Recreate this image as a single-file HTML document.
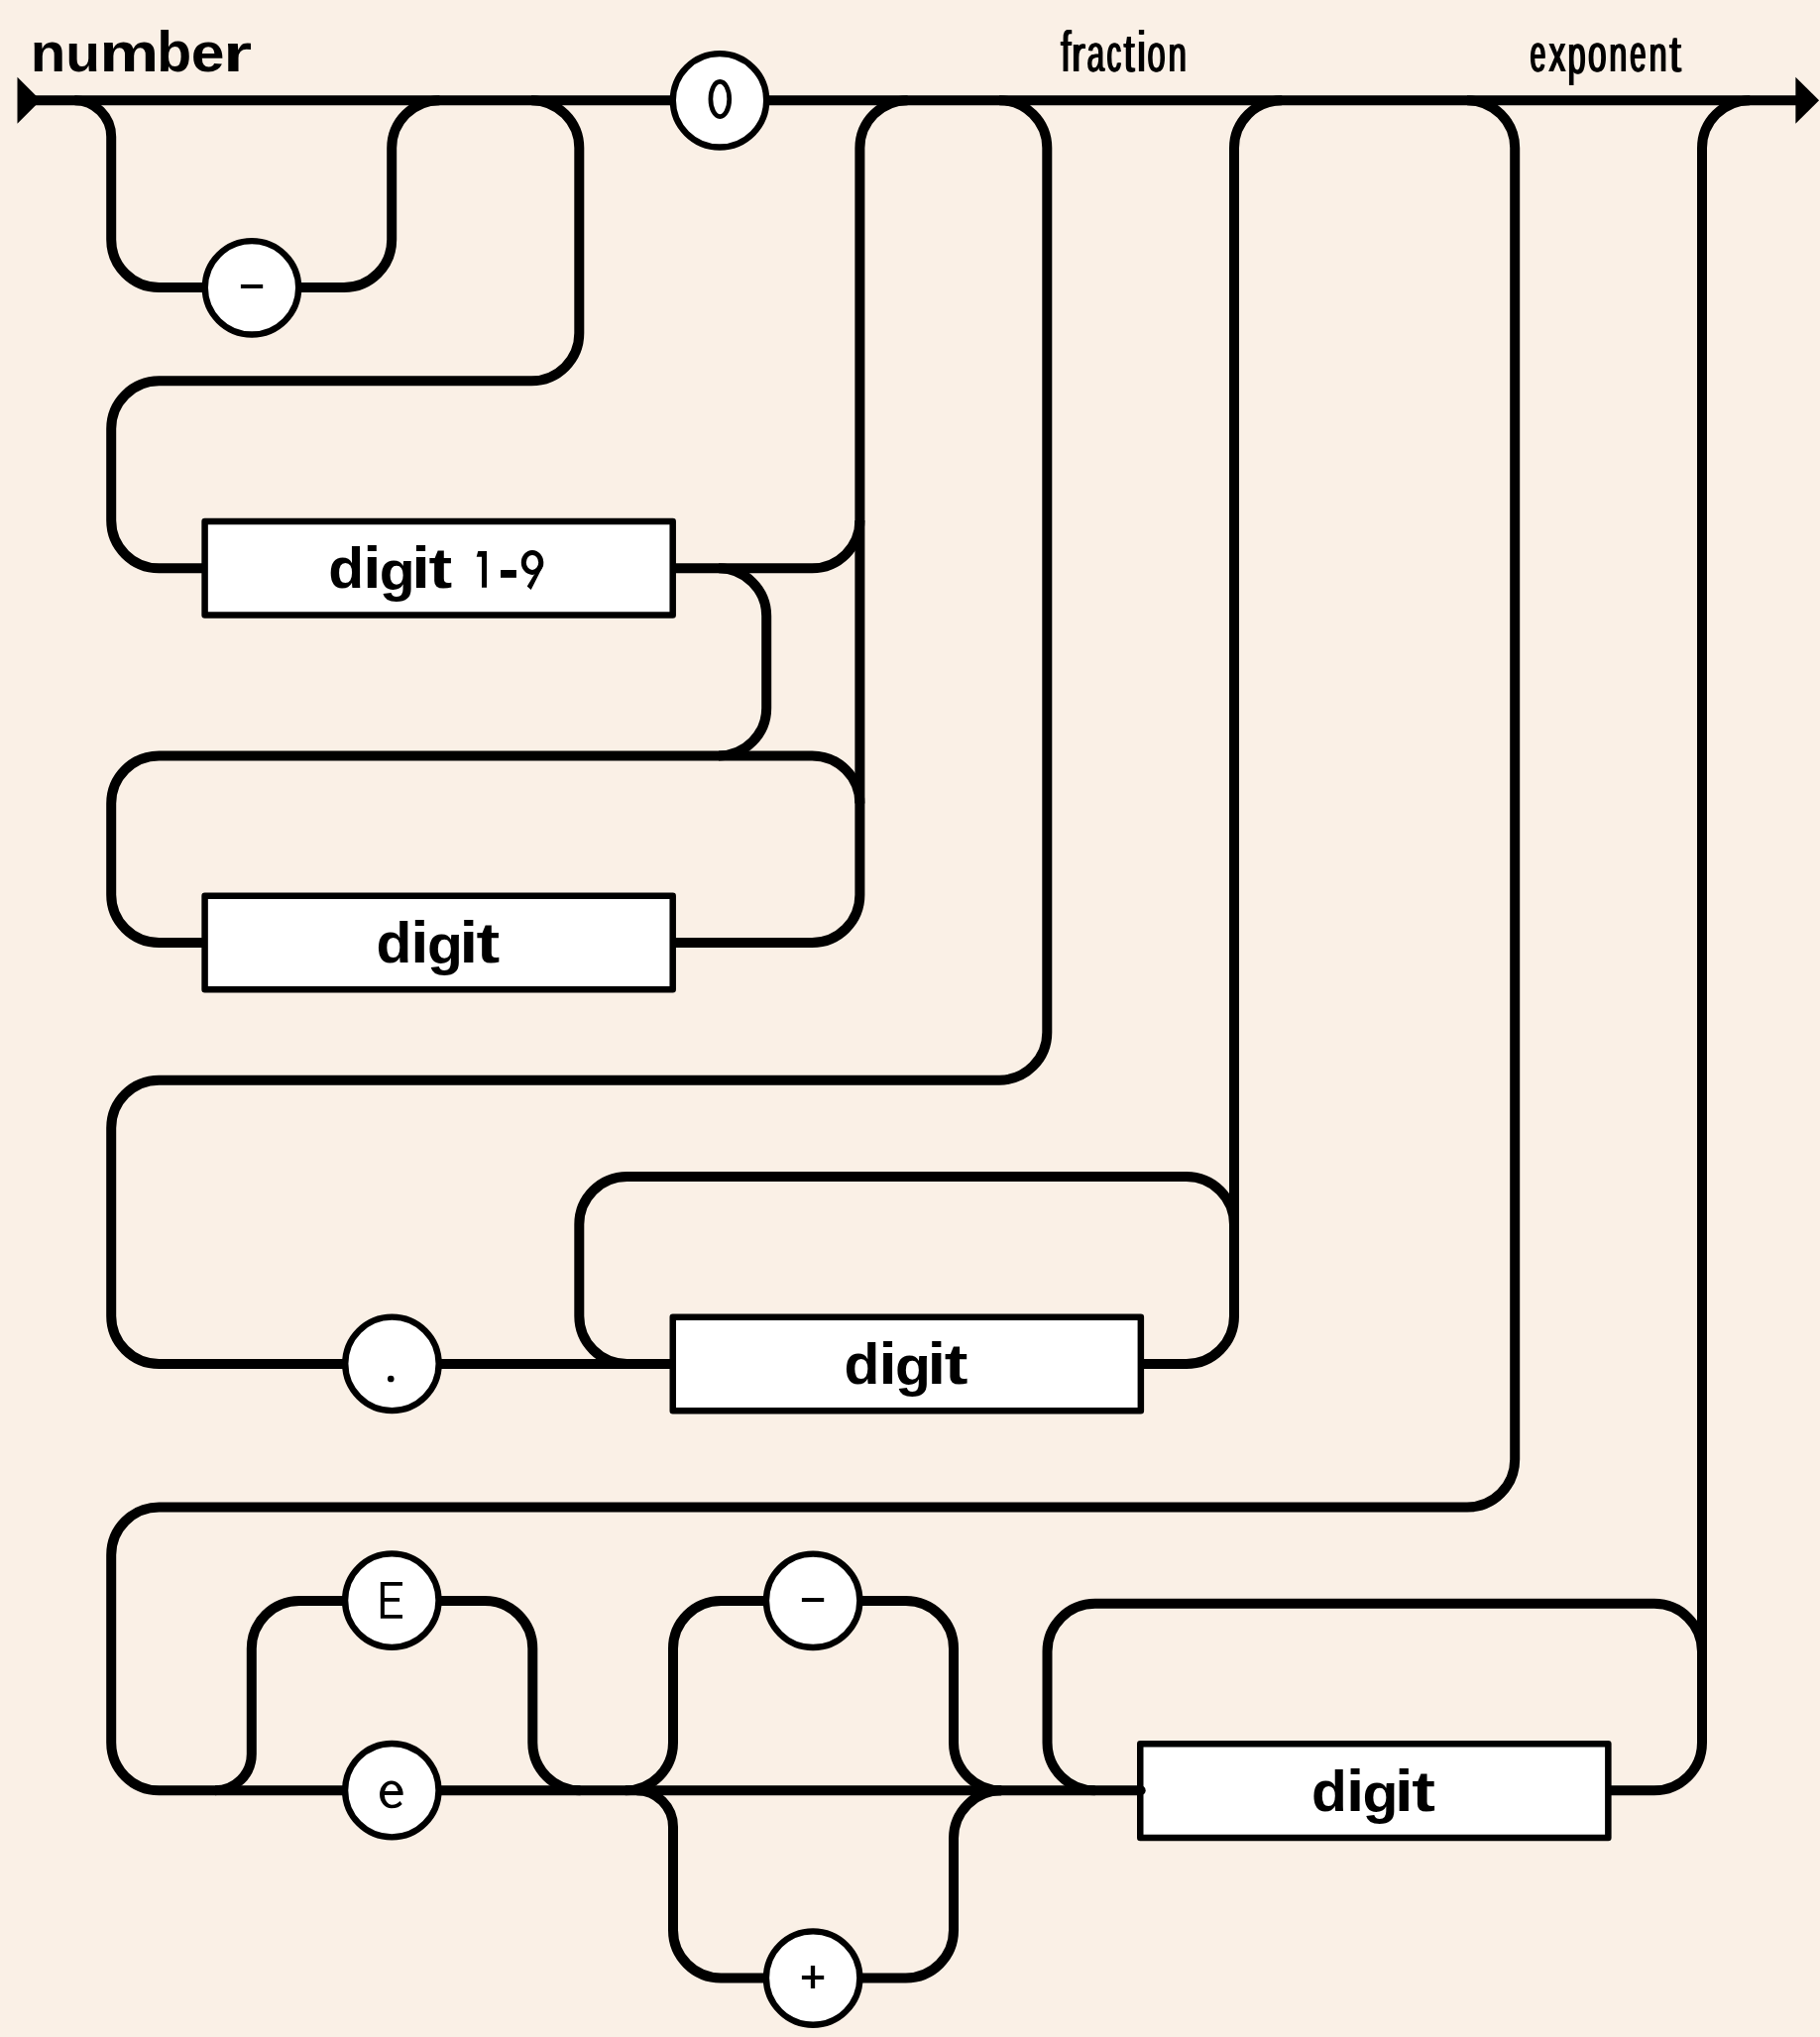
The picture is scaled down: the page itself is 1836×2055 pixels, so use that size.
<!DOCTYPE html>
<html><head><meta charset="utf-8"><title>number</title>
<style>
html,body{margin:0;padding:0;background:#FAF0E6;}
body{width:1836px;height:2055px;overflow:hidden;}
svg{display:block;will-change:transform;}
text{font-family:"Liberation Sans",sans-serif;fill:#000;}
.B{font-weight:bold;}
</style></head><body>
<svg width="1836" height="2055" viewBox="0 0 1836 2055">
<rect width="1836" height="2055" fill="#FAF0E6"/>
<g fill="none" stroke="#000" stroke-width="10" stroke-linecap="butt" stroke-linejoin="round">
<path d="M30 101.15 H1815"/>
<path d="M75.4 101.15 A36.8 36.8 0 0 1 112.2 137.95 V241.8 A48.2 48.2 0 0 0 160.4 290 H347 A48.2 48.2 0 0 0 395.2 241.8 V149.35 A48.2 48.2 0 0 1 443.4 101.15"/>
<path d="M536.1 101.15 A48.2 48.2 0 0 1 584.3 149.35 V336.1 A48.2 48.2 0 0 1 536.1 384.3 H160.4 A48.2 48.2 0 0 0 112.2 432.5 V525.1 A48.2 48.2 0 0 0 160.4 573.3 H210"/>
<path d="M676 573.3 H819.2 A48.2 48.2 0 0 0 867.4 525.1 V149.35 A48.2 48.2 0 0 1 915.6 101.15"/>
<path d="M725 573.3 A48.2 48.2 0 0 1 773.2 621.5 V714.2 A48.2 48.2 0 0 1 725 762.4 H160.4 A48.2 48.2 0 0 0 112.2 810.6 V902.8 A48.2 48.2 0 0 0 160.4 951 H210"/>
<path d="M676 951 H819.2 A48.2 48.2 0 0 0 867.4 902.8 V525.1"/>
<path d="M725 762.4 H819.2 A48.2 48.2 0 0 1 867.4 810.6"/>
<path d="M1008.1 101.15 A48.2 48.2 0 0 1 1056.3 149.35 V1041.5 A48.2 48.2 0 0 1 1008.1 1089.7 H160.4 A48.2 48.2 0 0 0 112.2 1137.9 V1327.8 A48.2 48.2 0 0 0 160.4 1376 H682"/>
<path d="M1148 1376 H1196.8 A48.2 48.2 0 0 0 1245 1327.8 V149.35 A48.2 48.2 0 0 1 1293.2 101.15"/>
<path d="M632.5 1376 A48.2 48.2 0 0 1 584.3 1327.8 V1235.2 A48.2 48.2 0 0 1 632.5 1187 H1196.8 A48.2 48.2 0 0 1 1245 1235.2"/>
<path d="M1480 101.15 A48.2 48.2 0 0 1 1528.2 149.35 V1472.3 A48.2 48.2 0 0 1 1480 1520.5 H160.4 A48.2 48.2 0 0 0 112.2 1568.7 V1758.1 A48.2 48.2 0 0 0 160.4 1806.3 H1152"/>
<path d="M217 1806.3 A36.8 36.8 0 0 0 253.8 1769.5 V1663.2 A48.2 48.2 0 0 1 302 1615 H489.1 A48.2 48.2 0 0 1 537.3 1663.2 V1758.1 A48.2 48.2 0 0 0 585.5 1806.3"/>
<path d="M630.8 1806.3 A48.2 48.2 0 0 0 679 1758.1 V1663.2 A48.2 48.2 0 0 1 727.2 1615 H913.8 A48.2 48.2 0 0 1 962 1663.2 V1758.1 A48.2 48.2 0 0 0 1010.2 1806.3"/>
<path d="M642.2 1806.3 A36.8 36.8 0 0 1 679 1843.1 V1947.3 A48.2 48.2 0 0 0 727.2 1995.5 H913.8 A48.2 48.2 0 0 0 962 1947.3 V1854.5 A48.2 48.2 0 0 1 1010.2 1806.3"/>
<path d="M1104.7 1806.3 A48.2 48.2 0 0 1 1056.5 1758.1 V1666 A48.2 48.2 0 0 1 1104.7 1617.8 H1668.8 A48.2 48.2 0 0 1 1717 1666"/>
<path d="M1620 1806.3 H1668.8 A48.2 48.2 0 0 0 1717 1758.1 V149.35 A48.2 48.2 0 0 1 1765.2 101.15"/>
</g>
<path d="M17.5 77.86 L41 101.36 L17.5 124.86 Z" fill="#000"/>
<path d="M1811.36 77.86 L1835.1 101.36 L1811.36 124.86 Z" fill="#000"/>
<g fill="#fff" stroke="#000" stroke-width="6.5" stroke-linejoin="round">
<rect x="206.6" y="526" width="472.1" height="94.6"/>
<rect x="206.6" y="903.7" width="472.1" height="94.6"/>
<rect x="678.75" y="1328.7" width="472.1" height="94.6"/>
<rect x="1150.25" y="1759.3" width="472.1" height="94.6"/>
</g>
<circle cx="1150.7" cy="1806.3" r="5" fill="#000"/>
<g fill="#fff" stroke="#000" stroke-width="6.35">
<circle cx="254" cy="290.3" r="47.2"/>
<circle cx="726" cy="101.3" r="47.2"/>
<circle cx="395.45" cy="1375.85" r="47.2"/>
<circle cx="395.3" cy="1614.6" r="47.2"/>
<circle cx="395.3" cy="1806.2" r="47.2"/>
<circle cx="820.15" cy="1614.8" r="47.2"/>
<circle cx="820.15" cy="1995.5" r="47.2"/>
</g>
<g><text font-size="100" transform="matrix(0.3772 0 0 0.5707 1069.17 72.00)">f</text><text font-size="100" transform="matrix(0.4200 0 0 0.5185 1080.11 72.00)">r</text><text font-size="100" transform="matrix(0.3173 0 0 0.5293 1095.65 72.38)">a</text><text font-size="100" transform="matrix(0.2876 0 0 0.5293 1115.78 72.38)">c</text><text font-size="100" transform="matrix(0.3955 0 0 0.5319 1132.70 72.48)">t</text><text font-size="100" transform="matrix(0.4324 0 0 0.5700 1145.91 72.00)">i</text><text font-size="100" transform="matrix(0.3262 0 0 0.5293 1156.63 72.38)">o</text><text font-size="100" transform="matrix(0.3272 0 0 0.5222 1177.73 72.00)">n</text></g>
<g><text font-size="100" transform="matrix(0.3772 0 0 0.5707 1070.02 72.00)">f</text><text font-size="100" transform="matrix(0.4200 0 0 0.5185 1080.96 72.00)">r</text><text font-size="100" transform="matrix(0.3173 0 0 0.5293 1096.50 72.38)">a</text><text font-size="100" transform="matrix(0.2876 0 0 0.5293 1116.63 72.38)">c</text><text font-size="100" transform="matrix(0.3955 0 0 0.5319 1133.55 72.48)">t</text><text font-size="100" transform="matrix(0.4324 0 0 0.5700 1146.76 72.00)">i</text><text font-size="100" transform="matrix(0.3262 0 0 0.5293 1157.48 72.38)">o</text><text font-size="100" transform="matrix(0.3272 0 0 0.5222 1178.58 72.00)">n</text></g>
<g><text font-size="100" transform="matrix(0.3772 0 0 0.5707 1070.87 72.00)">f</text><text font-size="100" transform="matrix(0.4200 0 0 0.5185 1081.81 72.00)">r</text><text font-size="100" transform="matrix(0.3173 0 0 0.5293 1097.35 72.38)">a</text><text font-size="100" transform="matrix(0.2876 0 0 0.5293 1117.48 72.38)">c</text><text font-size="100" transform="matrix(0.3955 0 0 0.5319 1134.40 72.48)">t</text><text font-size="100" transform="matrix(0.4324 0 0 0.5700 1147.61 72.00)">i</text><text font-size="100" transform="matrix(0.3262 0 0 0.5293 1158.33 72.38)">o</text><text font-size="100" transform="matrix(0.3272 0 0 0.5222 1179.43 72.00)">n</text></g>
<g><text font-size="100" transform="matrix(0.2813 0 0 0.5321 1542.70 72.33)">e</text><text font-size="100" transform="matrix(0.3326 0 0 0.5205 1561.73 72.00)">x</text><text font-size="100" transform="matrix(0.3224 0 0 0.5610 1580.72 74.06)">p</text><text font-size="100" transform="matrix(0.3304 0 0 0.5321 1601.31 72.33)">o</text><text font-size="100" transform="matrix(0.3225 0 0 0.5222 1622.56 72.00)">n</text><text font-size="100" transform="matrix(0.2877 0 0 0.5321 1643.58 72.33)">e</text><text font-size="100" transform="matrix(0.3225 0 0 0.5222 1662.76 72.00)">n</text><text font-size="100" transform="matrix(0.4229 0 0 0.5250 1683.36 72.44)">t</text></g>
<g><text font-size="100" transform="matrix(0.2813 0 0 0.5321 1543.55 72.33)">e</text><text font-size="100" transform="matrix(0.3326 0 0 0.5205 1562.58 72.00)">x</text><text font-size="100" transform="matrix(0.3224 0 0 0.5610 1581.57 74.06)">p</text><text font-size="100" transform="matrix(0.3304 0 0 0.5321 1602.16 72.33)">o</text><text font-size="100" transform="matrix(0.3225 0 0 0.5222 1623.41 72.00)">n</text><text font-size="100" transform="matrix(0.2877 0 0 0.5321 1644.43 72.33)">e</text><text font-size="100" transform="matrix(0.3225 0 0 0.5222 1663.61 72.00)">n</text><text font-size="100" transform="matrix(0.4229 0 0 0.5250 1684.21 72.44)">t</text></g>
<g><text font-size="100" transform="matrix(0.2813 0 0 0.5321 1544.40 72.33)">e</text><text font-size="100" transform="matrix(0.3326 0 0 0.5205 1563.43 72.00)">x</text><text font-size="100" transform="matrix(0.3224 0 0 0.5610 1582.42 74.06)">p</text><text font-size="100" transform="matrix(0.3304 0 0 0.5321 1603.01 72.33)">o</text><text font-size="100" transform="matrix(0.3225 0 0 0.5222 1624.26 72.00)">n</text><text font-size="100" transform="matrix(0.2877 0 0 0.5321 1645.28 72.33)">e</text><text font-size="100" transform="matrix(0.3225 0 0 0.5222 1664.46 72.00)">n</text><text font-size="100" transform="matrix(0.4229 0 0 0.5250 1685.06 72.44)">t</text></g>
<g><text class="B" font-size="100" transform="matrix(0.5819 0 0 0.5459 30.66 72.10)">n</text><text class="B" font-size="100" transform="matrix(0.5695 0 0 0.5389 66.27 72.17)">u</text><text class="B" font-size="100" transform="matrix(0.6700 0 0 0.5459 100.38 72.10)">m</text><text class="B" font-size="100" transform="matrix(0.5715 0 0 0.5692 158.33 72.14)">b</text><text class="B" font-size="100" transform="matrix(0.6067 0 0 0.5476 192.73 72.17)">e</text><text class="B" font-size="100" transform="matrix(0.7497 0 0 0.5459 225.06 72.10)">r</text></g>
<g><text class="B" font-size="100" transform="matrix(0.5874 0 0 0.5706 331.29 593.34)">d</text><text class="B" font-size="100" transform="matrix(0.6559 0 0 0.5838 366.22 593.20)">i</text><text class="B" font-size="100" transform="matrix(0.5886 0 0 0.5636 382.79 594.66)">g</text><text class="B" font-size="100" transform="matrix(0.6705 0 0 0.5838 415.32 593.20)">i</text><text class="B" font-size="100" transform="matrix(0.7129 0 0 0.5763 432.43 593.39)">t</text></g>
<g><text class="B" font-size="100" transform="matrix(0.5874 0 0 0.5706 379.44 971.04)">d</text><text class="B" font-size="100" transform="matrix(0.6559 0 0 0.5838 414.37 970.90)">i</text><text class="B" font-size="100" transform="matrix(0.5886 0 0 0.5636 430.94 972.36)">g</text><text class="B" font-size="100" transform="matrix(0.6705 0 0 0.5838 463.47 970.90)">i</text><text class="B" font-size="100" transform="matrix(0.7129 0 0 0.5763 480.58 971.09)">t</text></g>
<g><text class="B" font-size="100" transform="matrix(0.5874 0 0 0.5706 851.59 1396.04)">d</text><text class="B" font-size="100" transform="matrix(0.6559 0 0 0.5838 886.52 1395.90)">i</text><text class="B" font-size="100" transform="matrix(0.5886 0 0 0.5636 903.09 1397.36)">g</text><text class="B" font-size="100" transform="matrix(0.6705 0 0 0.5838 935.62 1395.90)">i</text><text class="B" font-size="100" transform="matrix(0.7129 0 0 0.5763 952.73 1396.09)">t</text></g>
<g><text class="B" font-size="100" transform="matrix(0.5874 0 0 0.5706 1323.09 1826.64)">d</text><text class="B" font-size="100" transform="matrix(0.6559 0 0 0.5838 1358.02 1826.50)">i</text><text class="B" font-size="100" transform="matrix(0.5886 0 0 0.5636 1374.59 1827.96)">g</text><text class="B" font-size="100" transform="matrix(0.6705 0 0 0.5838 1407.12 1826.50)">i</text><text class="B" font-size="100" transform="matrix(0.7129 0 0 0.5763 1424.23 1826.69)">t</text></g>
<path d="M482.25 555.9 H491.05 V592.8 H486 V561.7 H480.7 Z" fill="#000"/>
<rect x="505" y="575" width="15.9" height="7.8" fill="#000"/>
<ellipse cx="537" cy="567.4" rx="8.7" ry="10.0" fill="none" stroke="#000" stroke-width="5"/>
<path d="M548.1 566 L548.2 570.2 L535.7 594.9 L531.7 591.6 L538.4 580.6 L543.5 574 Z" fill="#000"/>
<ellipse cx="726.3" cy="99.95" rx="9.4" ry="17.6" fill="none" stroke="#000" stroke-width="4.7"/>
<rect x="242.9" y="286.9" width="22.3" height="4" fill="#000"/>
<circle cx="394.25" cy="1391" r="3.35" fill="#000"/>
<path fill="#000" d="M383.87 1596.04 H405.99 V1599.75 H387.86 V1612.1 H403.1 V1615.8 H387.86 V1629 H405.99 V1632.86 H383.87 Z"/>
<path fill="#000" fill-rule="evenodd" d="M406.4 1810.9 L406.68 1810.35 A11.8 13.95 0 0 0 383.05 1810.35 A11.8 13.95 0 0 0 394.87 1824.29 C400 1824.29 403.5 1822.5 405.71 1819.89 L403.4 1817 C401.5 1819.3 398.8 1820.7 395.4 1820.7 A7.07 10.35 0 0 1 387.86 1810.9 Z M388.2 1807.1 A7.07 10.35 0 0 1 401.65 1807.1 Z"/>
<rect x="808.9" y="1612" width="22.3" height="4" fill="#000"/>
<path fill="#000" d="M808.9 1993 H817.85 V1983 H822.15 V1993 H831.2 V1997 H822.15 V2005.95 H817.85 V1997 H808.9 Z"/>
</svg>
</body></html>
